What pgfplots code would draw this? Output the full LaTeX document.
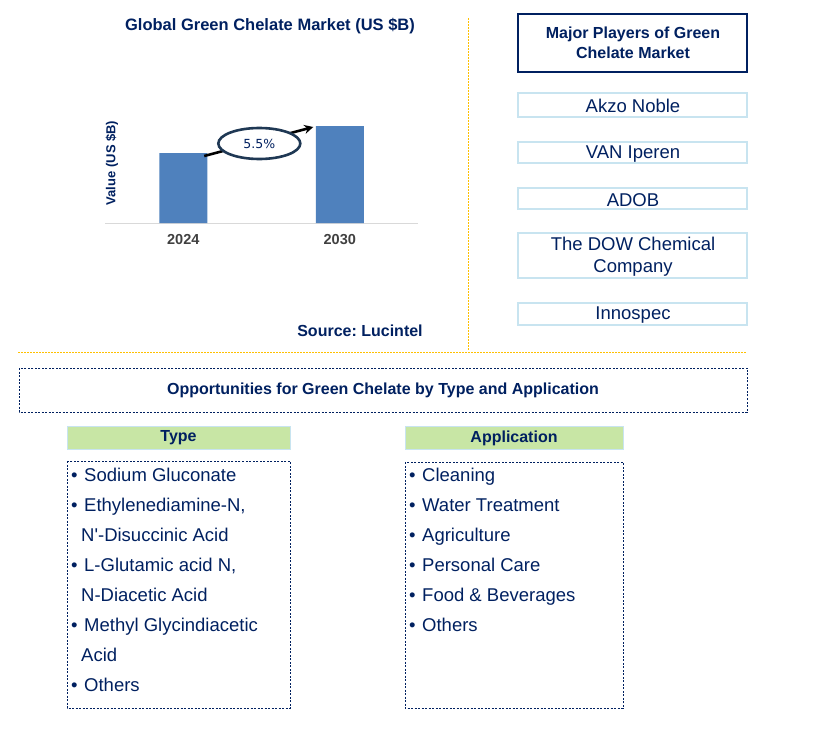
\documentclass[border=0pt]{standalone}
\usepackage{pgfplots}
\pgfplotsset{compat=1.18}
\usepackage{fontspec}
\setmainfont{Liberation Sans}
\newfontfamily\plainf{Liberation Sans}
\newfontfamily\pctfont{DejaVu Sans}
\usetikzlibrary{arrows.meta,shapes.geometric}

\definecolor{navy}{HTML}{002060}
\definecolor{barblue}{HTML}{4F81BD}
\definecolor{tickgray}{HTML}{404040}
\definecolor{axisgray}{HTML}{D9D9D9}
\definecolor{ringcol}{HTML}{1F3854}
\definecolor{sep}{HTML}{FFC000}
\definecolor{paleblue}{HTML}{C8E4F0}
\definecolor{hdrgreen}{HTML}{C8E6A5}

\newcommand{\fs}[1]{\fontsize{#1bp}{1.2\dimexpr#1bp\relax}\selectfont}
\frenchspacing

\begin{document}
\begin{tikzpicture}
% market size chart
\begin{axis}[
    at={(105bp,-223bp)}, anchor=south west,
    scale only axis, width=313bp, height=173bp,
    xmin=-0.5, xmax=1.5, ymin=0, ymax=1.73,
    axis lines*=left,
    x axis line style={axisgray, line width=1bp},
    y axis line style={draw=none},
    ytick=\empty,
    xtick={0,1}, xticklabels={2024,2030},
    major tick length=0pt,
    xticklabel style={font=\fs{14.5}\bfseries, text=tickgray, yshift=-8bp},
    ybar, bar width=48bp,
    clip=false,
]
\addplot[fill=barblue, draw=none] coordinates {(0,0.70) (1,0.97)};
\draw[line width=2.6bp, -{Stealth[length=9bp,width=9bp]}]
    (axis cs:0.134,0.67) -- (axis cs:0.831,0.96);
\node[ellipse, draw=ringcol, line width=2.6bp, fill=white,
      minimum width=82bp, minimum height=31bp, inner sep=0pt,
      font=\pctfont\fs{12.5}, text=navy] at (axis cs:0.486,0.795) {5.5\%};
\node[rotate=90, font=\fs{13}\bfseries, text=navy]
    at (axis description cs:0.022,0.347) {Value (US \$B)};
\end{axis}

\begin{scope}[x=1bp, y=-1bp]
\path (0,0) rectangle (818,729);

\node[font=\fs{16.5}\bfseries, text=navy] at (270,26) {Global Green Chelate Market (US \$B)};
\node[font=\fs{16}\bfseries, text=navy] at (360,331) {Source: Lucintel};

% separators
\draw[sep, line width=0.9bp, dash pattern=on 2bp off 1bp] (468,18) -- (468,350);
\draw[sep, line width=0.9bp, dash pattern=on 2bp off 1bp] (18,352) -- (747,352);

% major players
\draw[navy, line width=1.2bp] (518,14) rectangle (747,72);
\node[font=\fs{16}\bfseries, text=navy, align=center] at (633,43)
    {Major Players of Green\\[1bp]Chelate Market};

\begin{scope}[paleblue, line width=1.2bp]
\draw (518,93) rectangle (747,117);
\draw (518,142) rectangle (747,163);
\draw (518,188) rectangle (747,209);
\draw (518,233) rectangle (747,278);
\draw (518,303) rectangle (747,325);
\end{scope}
\begin{scope}[every node/.style={font=\fs{18.5}, text=navy, align=center}]
\node at (633,106) {Akzo Noble};
\node at (633,154) {VAN Iperen};
\node at (633,200) {ADOB};
\node at (633,257) {The DOW Chemical\\Company};
\node at (633,315) {Innospec};
\end{scope}

% opportunities
\draw[navy, line width=0.9bp, dash pattern=on 2bp off 1.5bp] (19,368) rectangle (747,412);
\node[font=\fs{16}\bfseries, text=navy] at (383,390)
    {Opportunities for Green Chelate by Type and Application};

\draw[paleblue, fill=hdrgreen, line width=1bp] (67,426) rectangle (290,449);
\node[font=\fs{16}\bfseries, text=navy] at (178.5,438) {Type};
\draw[paleblue, fill=hdrgreen, line width=1bp] (405,426) rectangle (623,449);
\node[font=\fs{16}\bfseries, text=navy] at (514,438) {Application};

\draw[navy, line width=0.9bp, dash pattern=on 2bp off 1.5bp] (67,461) rectangle (290,708);
\draw[navy, line width=0.9bp, dash pattern=on 2bp off 1.5bp] (405,462) rectangle (623,708);

\begin{scope}[every node/.style={font=\fs{18.5}, text=navy, anchor=base west, inner sep=0pt}]
% type list
\node at (71,481.5) {•}; \node at (84,481.5) {Sodium Gluconate};
\node at (71,511.5) {•}; \node at (84,511.5) {Ethylenediamine-N,};
\node at (81,541.5) {N{\plainf '}-Disuccinic Acid};
\node at (71,571.5) {•}; \node at (84,571.5) {L-Glutamic acid N,};
\node at (81,601.5) {N-Diacetic Acid};
\node at (71,631.5) {•}; \node at (84,631.5) {Methyl Glycindiacetic};
\node at (81,661.5) {Acid};
\node at (71,691.5) {•}; \node at (84,691.5) {Others};
% application list
\node at (409,481.5) {•}; \node at (422,481.5) {Cleaning};
\node at (409,511.5) {•}; \node at (422,511.5) {Water Treatment};
\node at (409,541.5) {•}; \node at (422,541.5) {Agriculture};
\node at (409,571.5) {•}; \node at (422,571.5) {Personal Care};
\node at (409,601.5) {•}; \node at (422,601.5) {Food \& Beverages};
\node at (409,631.5) {•}; \node at (422,631.5) {Others};
\end{scope}
\end{scope}
\end{tikzpicture}
\end{document}
